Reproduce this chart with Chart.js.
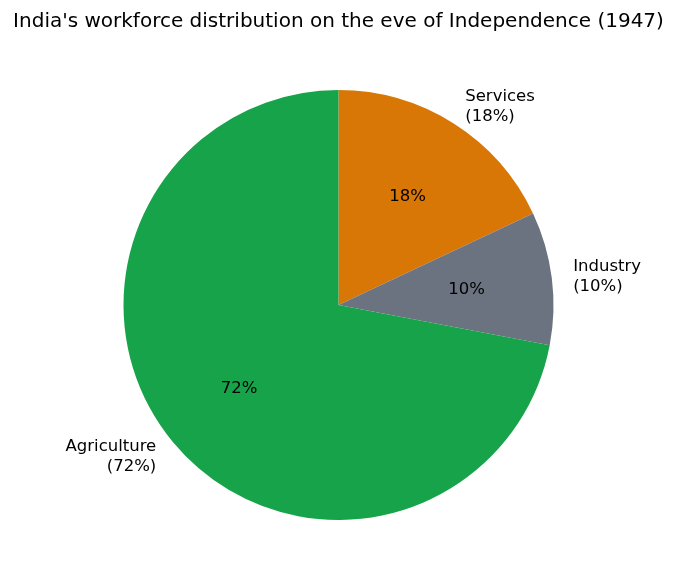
<!DOCTYPE html>
<html>
<head>
<meta charset="utf-8">
<script src="https://cdn.jsdelivr.net/npm/chart.js@4"></script>
<style>
  html, body { margin: 0; padding: 0; background: #ffffff; }
  #wrap { width: 677px; height: 586px; }
</style>
</head>
<body>
<div id="wrap"><canvas id="pieChart"></canvas></div>
<script>
// data
const sectors = ['Services', 'Industry', 'Agriculture'];
const shares = [18, 10, 72];
const sectorColors = ['#d97706', '#6b7280', '#16a34a'];

const fontFamily = "'DejaVu Sans', sans-serif";

// draws the outside labels and the inner percentages, matplotlib style
const pieLabels = {
    id: 'pieLabels',
    afterDatasetsDraw(chart) {
        const ctx = chart.ctx;
        const arcs = chart.getDatasetMeta(0).data;
        ctx.save();
        ctx.fillStyle = '#000000';
        ctx.font = '16.5px ' + fontFamily;
        arcs.forEach(function(arc, i) {
            const mid = (arc.startAngle + arc.endAngle) / 2;
            const r = arc.outerRadius;
            // percentage inside
            ctx.textAlign = 'center';
            ctx.textBaseline = 'middle';
            ctx.fillText(shares[i] + '%', arc.x + Math.cos(mid) * r * 0.6, arc.y + Math.sin(mid) * r * 0.6 + 1);
            // label outside
            const lx = arc.x + Math.cos(mid) * r * 1.1;
            const ly = arc.y + Math.sin(mid) * r * 1.1;
            ctx.textAlign = Math.cos(mid) >= 0 ? 'left' : 'right';
            const lines = [sectors[i], '(' + shares[i] + '%)'];
            const lh = 20;
            lines.forEach(function(line, k) {
                ctx.fillText(line, lx, ly + 1 + (k - (lines.length - 1) / 2) * lh);
            });
        });
        ctx.restore();
    }
};

const pieChart = new Chart(document.getElementById('pieChart').getContext('2d'), {
    type: 'pie',
    data: {
        labels: sectors,
        datasets: [{
            data: shares,
            backgroundColor: sectorColors,
            borderWidth: 0,
            hoverOffset: 0
        }]
    },
    options: {
        responsive: true,
        maintainAspectRatio: false,
        animation: false,
        layout: {
            padding: { top: 0, bottom: 66, left: 0, right: 0 }
        },
        plugins: {
            title: {
                display: true,
                text: "India's workforce distribution on the eve of Independence (1947)",
                color: '#000000',
                font: { size: 20, family: fontFamily, weight: 'normal', lineHeight: 1.2 },
                padding: { top: 10, bottom: 56 }
            },
            legend: { display: false },
            tooltip: {
                callbacks: {
                    label: function(context) {
                        return context.label + ': ' + context.raw + '%';
                    }
                }
            }
        }
    },
    plugins: [pieLabels]
});
</script>
</body>
</html>
